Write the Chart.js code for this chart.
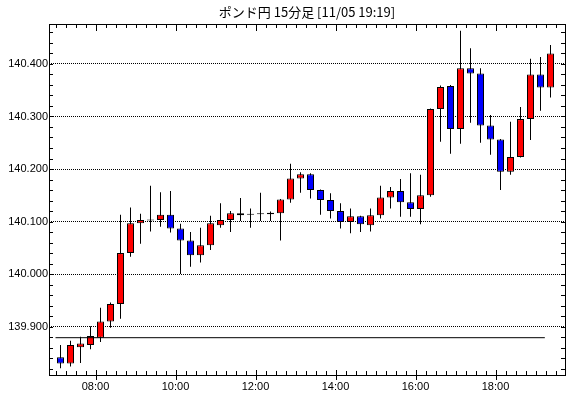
<!DOCTYPE html>
<html lang="ja">
<head>
<meta charset="utf-8">
<title>ポンド円 15分足</title>
<script src="https://cdn.jsdelivr.net/npm/chart.js@4.4.0/dist/chart.umd.min.js"></script>
<style>
  html, body { margin: 0; padding: 0; background: #fff; }
  #wrap { width: 570px; height: 398px; }
</style>
</head>
<body>
<div id="wrap"><canvas id="chart" width="570" height="398"></canvas></div>
<script>
// ═══════════════════════════════════════════════
// ポンド円 15分足 — candlestick chart
// ═══════════════════════════════════════════════

const chartTitle = 'ポンド円 15分足 [11/05 19:19]';

// 15 minute slots (start time of each candle)
const times = [
  '07:00','07:15','07:30','07:45','08:00','08:15','08:30','08:45','09:00','09:15',
  '09:30','09:45','10:00','10:15','10:30','10:45','11:00','11:15','11:30','11:45',
  '12:00','12:15','12:30','12:45','13:00','13:15','13:30','13:45','14:00','14:15',
  '14:30','14:45','15:00','15:15','15:30','15:45','16:00','16:15','16:30','16:45',
  '17:00','17:15','17:30','17:45','18:00','18:15','18:30','18:45','19:00','19:15'
];

const opens = [
  139.842, 139.830, 139.861, 139.865, 139.879, 139.910, 139.943, 140.040, 140.097, 140.102,
  140.103, 140.113, 140.087, 140.064, 140.036, 140.055, 140.093, 140.103, 140.116, 140.115,
  140.116, 140.114, 140.116, 140.142, 140.182, 140.190, 140.160, 140.141, 140.120, 140.099,
  140.110, 140.093, 140.112, 140.146, 140.158, 140.137, 140.124, 140.150, 140.314, 140.358,
  140.276, 140.392, 140.382, 140.283, 140.256, 140.195, 140.223, 140.295, 140.380, 140.355
];
const highs = [
  139.865, 139.873, 139.881, 139.901, 139.936, 139.946, 140.113, 140.127, 140.115, 140.168,
  140.156, 140.158, 140.096, 140.080, 140.088, 140.111, 140.135, 140.120, 140.145, 140.125,
  140.155, 140.119, 140.143, 140.210, 140.194, 140.192, 140.161, 140.154, 140.135, 140.125,
  140.111, 140.125, 140.168, 140.166, 140.181, 140.192, 140.189, 140.315, 140.359, 140.360,
  140.463, 140.430, 140.392, 140.303, 140.257, 140.290, 140.318, 140.410, 140.413, 140.436
];
const lows = [
  139.821, 139.824, 139.831, 139.857, 139.871, 139.898, 139.915, 140.033, 140.058, 140.081,
  140.090, 140.079, 140.000, 140.014, 140.022, 140.046, 140.088, 140.080, 140.101, 140.088,
  140.101, 140.101, 140.064, 140.136, 140.155, 140.144, 140.113, 140.106, 140.087, 140.078,
  140.080, 140.081, 140.106, 140.125, 140.109, 140.109, 140.095, 140.147, 140.252, 140.229,
  140.248, 140.288, 140.250, 140.227, 140.160, 140.189, 140.222, 140.255, 140.311, 140.336
];
const closes = [
  139.830, 139.865, 139.868, 139.882, 139.910, 139.943, 140.040, 140.097, 140.103, 140.104,
  140.113, 140.087, 140.064, 140.036, 140.055, 140.097, 140.103, 140.116, 140.112, 140.113,
  140.114, 140.117, 140.142, 140.182, 140.190, 140.160, 140.141, 140.120, 140.099, 140.110,
  140.095, 140.112, 140.146, 140.158, 140.137, 140.124, 140.150, 140.314, 140.356, 140.276,
  140.392, 140.382, 140.283, 140.256, 140.195, 140.223, 140.295, 140.380, 140.355, 140.420
];

// horizontal reference line
const refLevel = 139.879;
const refFrom  = '07:00';
const refTo    = '19:14';

const xTickLabels = ['08:00', '10:00', '12:00', '14:00', '16:00', '18:00'];
const yTickLabels = ['139.900', '140.000', '140.100', '140.200', '140.300', '140.400'];

const toMin = s => { const [h, m] = s.split(':'); return Number(h) * 60 + Number(m); };
const fmtMin = v => String(Math.floor(v / 60)).padStart(2, '0') + ':' + String(v % 60).padStart(2, '0');

const centers = times.map(t => toMin(t) + 7.5);
const bodyColors = opens.map((o, i) => closes[i] >= o ? '#ff0000' : '#0000ff');

// frame with inward tick marks on all four sides
const frameTicks = {
  id: 'frameTicks',
  afterDraw(chart) {
    const { ctx, chartArea: a, scales: { x, y } } = chart;
    ctx.save();
    ctx.strokeStyle = '#000';
    ctx.lineWidth = 1;
    ctx.beginPath();
    for (let k = 0; k < 40; k++) {
      const v = 139.82 + k * 0.02;
      if (v > y.max) break;
      const py = Math.round(y.getPixelForValue(v)) + 0.5;
      ctx.moveTo(a.left, py);  ctx.lineTo(a.left + 4, py);
      ctx.moveTo(a.right, py); ctx.lineTo(a.right - 4, py);
    }
    for (let m = 420; m < x.max; m += 15) {
      const px = Math.round(x.getPixelForValue(m)) + 0.5;
      const major = m % 120 === 0;
      ctx.moveTo(px, a.top);
      ctx.lineTo(px, a.top + (major ? 7 : 4));
      ctx.moveTo(px, major ? a.bottom + 5 : a.bottom);
      ctx.lineTo(px, a.bottom - (major ? 5 : 4));
    }
    ctx.stroke();
    ctx.strokeRect(a.left + 0.5, a.top + 0.5, a.right - a.left, a.bottom - a.top);
    ctx.restore();
  }
};

new Chart(document.getElementById('chart'), {
  type: 'bar',
  data: {
    datasets: [
      {
        type: 'line',
        data: [{ x: toMin(refFrom), y: refLevel }, { x: toMin(refTo), y: refLevel }],
        borderColor: '#000',
        borderWidth: 1,
        pointRadius: 0,
        order: 0
      },
      {
        data: centers.map((c, i) => ({ x: c, y: [opens[i], closes[i]] })),
        backgroundColor: bodyColors,
        borderColor: '#000',
        borderWidth: 1,
        borderSkipped: false,
        inflateAmount: 0,
        barThickness: 7,
        grouped: false,
        order: 1
      },
      {
        data: centers.map((c, i) => ({ x: c, y: [lows[i], highs[i]] })),
        backgroundColor: '#000',
        borderWidth: 0,
        inflateAmount: 0,
        barThickness: 1,
        grouped: false,
        order: 2
      }
    ]
  },
  options: {
    responsive: false,
    animation: false,
    layout: { padding: { top: 0, right: 5, bottom: 0, left: 0 } },
    plugins: {
      legend: { display: false },
      tooltip: { enabled: false },
      title: {
        display: true,
        text: chartTitle,
        fullSize: false,
        color: '#000',
        font: { family: '"Noto Sans CJK JP", sans-serif', size: 13, weight: 'normal', lineHeight: '16px' },
        padding: { top: 4, bottom: 4 }
      }
    },
    scales: {
      x: {
        type: 'linear',
        min: 410.25,
        max: 1184.25,
        offset: false,
        grid: { display: false, drawTicks: false },
        border: { display: false },
        afterBuildTicks: s => { s.ticks = xTickLabels.map(t => ({ value: toMin(t) })); },
        afterFit: s => { s.height = 23; },
        ticks: {
          color: '#000',
          padding: 5,
          maxRotation: 0,
          autoSkip: false,
          font: { family: '"Liberation Sans", sans-serif', size: 11 },
          callback: v => fmtMin(v)
        }
      },
      y: {
        type: 'linear',
        min: 139.808,
        max: 140.476,
        beginAtZero: false,
        grid: { color: '#000', lineWidth: 1, drawTicks: false },
        border: { display: false, dash: [1, 1] },
        afterBuildTicks: s => { s.ticks = yTickLabels.map(t => ({ value: parseFloat(t) })); },
        afterFit: s => { s.width = 49; },
        ticks: {
          color: '#000',
          padding: 1,
          font: { family: '"Liberation Sans", sans-serif', size: 11 },
          callback: v => v.toFixed(3)
        }
      }
    }
  },
  plugins: [frameTicks]
});
</script>
</body>
</html>
